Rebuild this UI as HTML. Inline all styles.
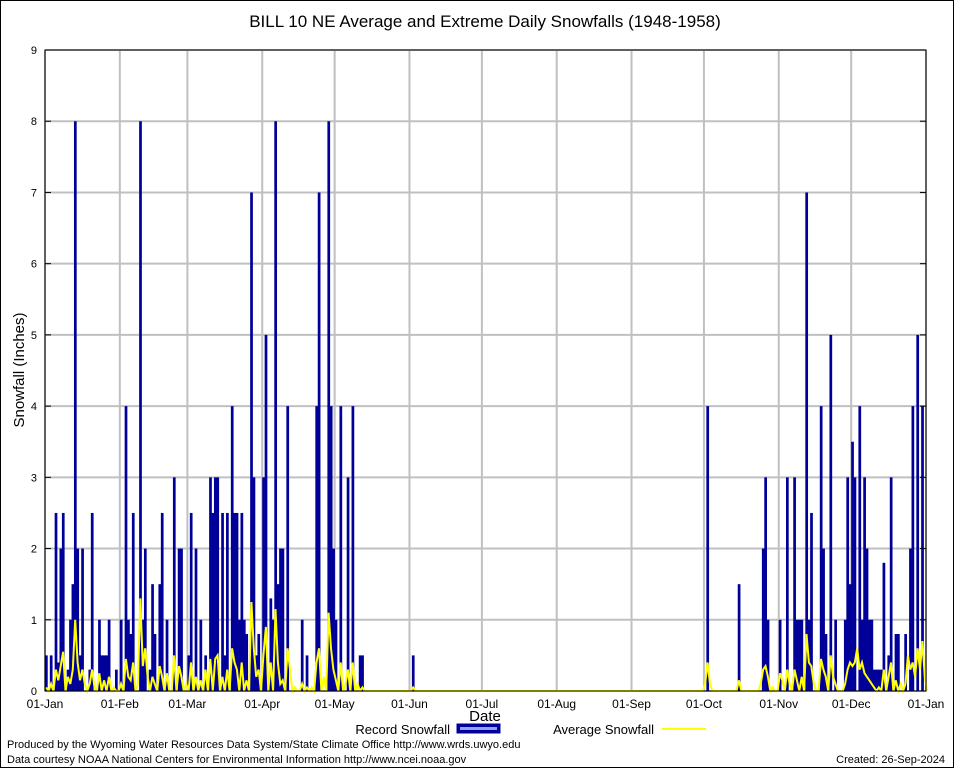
<!DOCTYPE html>
<html><head><meta charset="utf-8"><style>
html,body{margin:0;padding:0;background:#fff;}
svg{display:block;}
text{font-family:"Liberation Sans","DejaVu Sans",sans-serif;}
</style></head><body>
<svg id="chart" width="954" height="768" xmlns="http://www.w3.org/2000/svg">
<rect x="0.5" y="0.5" width="953" height="767" fill="#fff" stroke="#000"/>
<text x="485" y="27" text-anchor="middle" font-size="17">BILL 10 NE Average and Extreme Daily Snowfalls (1948-1958)</text>
<g id="grid"></g>
<g id="bars"></g>
<g id="avg"></g>
<g id="axes"></g>
<text transform="translate(24,370) rotate(-90)" text-anchor="middle" font-size="15">Snowfall (Inches)</text>
<text x="485" y="721" text-anchor="middle" font-size="15">Date</text>
<g>
<text x="450" y="734" text-anchor="end" font-size="13">Record Snowfall</text>
<rect x="457" y="724" width="43" height="9" fill="#000099" stroke="#000099"/>
<rect x="460" y="727" width="37" height="3" fill="#8fa0ff"/>
<text x="654" y="734" text-anchor="end" font-size="13">Average Snowfall</text>
<line x1="662" y1="729" x2="706" y2="729" stroke="#ffff00" stroke-width="2"/>
</g>
<text x="7" y="748" font-size="11">Produced by the Wyoming Water Resources Data System/State Climate Office http://www.wrds.uwyo.edu</text>
<text x="7" y="763" font-size="11">Data courtesy NOAA National Centers for Environmental Information http://www.ncei.noaa.gov</text>
<text x="945" y="763" text-anchor="end" font-size="11">Created: 26-Sep-2024</text>
</svg>
<script>
const monthLabels=["01-Jan","01-Feb","01-Mar","01-Apr","01-May","01-Jun","01-Jul","01-Aug","01-Sep","01-Oct","01-Nov","01-Dec","01-Jan"];
const monthDays=[0,31,59,90,120,151,181,212,243,273,304,334,365];
const yTicks=[0,1,2,3,4,5,6,7,8,9];
const recDays=[0,2,4,5,6,7,9,10,11,12,13,14,15,18,19,22,23,24,25,26,29,31,33,34,35,36,39,40,41,43,44,45,47,48,50,53,55,56,59,60,62,64,66,68,69,70,71,73,74,75,77,78,79,80,81,82,83,85,86,87,88,90,91,93,94,95,96,97,98,100,106,108,112,113,117,118,119,120,122,125,127,130,131,152,274,287,297,298,299,304,307,310,311,312,313,315,316,317,321,322,323,325,327,331,332,333,334,335,337,338,339,340,341,342,343,344,345,346,347,349,350,352,353,356,358,359,361,363];
const recVals=[0.5,0.5,2.5,0.4,2.0,2.5,0.3,1.0,1.5,8,2.0,0.5,2.0,0.3,2.5,1.0,0.5,0.5,0.5,1.0,0.3,1.0,4.0,1.0,0.8,2.5,8,1.0,2.0,0.3,1.5,0.8,1.5,2.5,1.0,3.0,2.0,2.0,0.5,2.5,2.0,1.0,0.5,3.0,2.5,3.0,3.0,2.5,0.5,2.5,4.0,2.5,2.5,1.0,2.5,1.0,0.8,7,3.0,0.5,0.8,3.0,5.0,1.3,1.0,8,1.5,2.0,2.0,4.0,1.0,0.5,4.0,7,8,4.0,2.0,1.0,4.0,3.0,4.0,0.5,0.5,0.5,4.0,1.5,2.0,3.0,1.0,1.0,3.0,3.0,1.0,1.0,1.0,7,1.0,2.5,4.0,2.0,0.8,5.0,1.0,1.0,3.0,1.5,3.5,3.0,4.0,1.0,3.0,2.0,1.0,1.0,0.3,0.3,0.3,0.3,1.8,0.5,3.0,0.8,0.8,0.8,2.0,4.0,5.0,4.0];
const avgDays=[0,2,4,5,6,7,9,10,11,12,13,14,15,16,18,19,20,22,24,26,28,31,33,34,35,36,38,39,40,41,42,44,45,47,48,50,53,55,56,58,60,62,64,66,68,70,71,73,75,77,78,79,81,83,85,86,87,88,90,91,93,95,96,97,98,100,101,103,106,108,110,112,113,115,117,118,119,120,122,124,125,127,129,131,152,273,274,275,287,296,297,298,299,301,304,305,307,308,310,311,313,315,316,317,318,321,322,323,325,326,327,331,332,333,334,335,336,337,338,339,340,341,342,343,345,347,349,350,352,354,356,357,358,359,360,361,362,363,364];
const avgVals=[0.05,0.1,0.3,0.15,0.35,0.55,0.2,0.1,0.3,1.0,0.4,0.15,0.3,0.1,0.1,0.3,0.05,0.25,0.15,0.2,0.05,0.1,0.45,0.2,0.15,0.4,0.1,1.3,0.35,0.6,0.2,0.2,0.1,0.35,0.2,0.25,0.5,0.35,0.2,0.1,0.4,0.2,0.15,0.3,0.45,0.45,0.5,0.2,0.3,0.6,0.4,0.3,0.4,0.15,1.25,0.6,0.2,0.3,0.5,0.9,0.4,1.15,0.4,0.1,0.15,0.6,0.3,0.05,0.1,0.05,0.05,0.4,0.6,0.2,1.1,0.6,0.3,0.15,0.4,0.1,0.3,0.4,0.1,0.05,0.05,0.1,0.4,0.1,0.15,0.1,0.3,0.35,0.2,0.05,0.25,0.15,0.3,0.1,0.3,0.15,0.2,0.8,0.4,0.35,0.1,0.45,0.3,0.2,0.5,0.2,0.1,0.1,0.3,0.4,0.35,0.4,0.6,0.3,0.4,0.25,0.2,0.15,0.1,0.05,0.05,0.3,0.2,0.4,0.15,0.1,0.1,0.5,0.3,0.4,0.2,0.6,0.3,0.7,0.2];
const NS="http://www.w3.org/2000/svg";
const X0=45,X1=926,Y0=691,Y1=50;
function xs(d){return X0+(X1-X0)*d/365;}
function ys(v){return Y0-(Y0-Y1)*v/9;}
function mk(tag,attrs,parent){const e=document.createElementNS(NS,tag);for(const k in attrs)e.setAttribute(k,attrs[k]);parent.appendChild(e);return e;}
const grid=document.getElementById('grid'),bars=document.getElementById('bars'),avg=document.getElementById('avg'),axes=document.getElementById('axes');
yTicks.forEach(t=>{
  const l=mk('line',{x1:X0,x2:X1,y1:ys(t),y2:ys(t),stroke:'#c0c0c0','stroke-width':2},grid);
  
  
  const tx=mk('text',{x:X0-8,y:ys(t)+4,'text-anchor':'end','font-size':11,'font-family':'Liberation Serif, serif'},axes);
  tx.textContent=t;
  
  
});
monthDays.forEach((d,i)=>{
  const l=mk('line',{x1:xs(d),x2:xs(d),y1:Y1,y2:Y0,stroke:'#c0c0c0','stroke-width':2},grid);
  
  
  const tx=mk('text',{x:xs(d),y:708,'text-anchor':'middle','font-size':12,'font-family':'Liberation Serif, serif'},axes);
  tx.textContent=monthLabels[i];
  
  
});
const bw=(X1-X0)/365;
recDays.forEach((d,i)=>{
  const v=recVals[i];
  const r=mk('rect',{x:xs(d),y:ys(v),width:bw+0.3,height:Y0-ys(v),fill:'#000099'},bars);
  
  
});
const full=new Array(366).fill(0);
avgDays.forEach((d,i)=>{full[d]=avgVals[i];});
let dstr='';
full.forEach((v,d)=>{dstr+=(d?'L':'M')+(xs(d)+bw/2).toFixed(1)+' '+ys(v).toFixed(1)+' ';});
const p=mk('path',{d:dstr,fill:'none',stroke:'#ffff00','stroke-width':2},avg);


const fr=mk('rect',{x:X0,y:Y1,width:X1-X0,height:Y0-Y1,fill:'none',stroke:'#000','stroke-width':1},axes);


yTicks.forEach(t=>{
  const a=mk('line',{x1:X0,x2:X0+6,y1:ys(t),y2:ys(t),stroke:'#000'},axes);
  
  
  const b=mk('line',{x1:X1-6,x2:X1,y1:ys(t),y2:ys(t),stroke:'#000'},axes);
  
  
});
</script>
</body></html>
